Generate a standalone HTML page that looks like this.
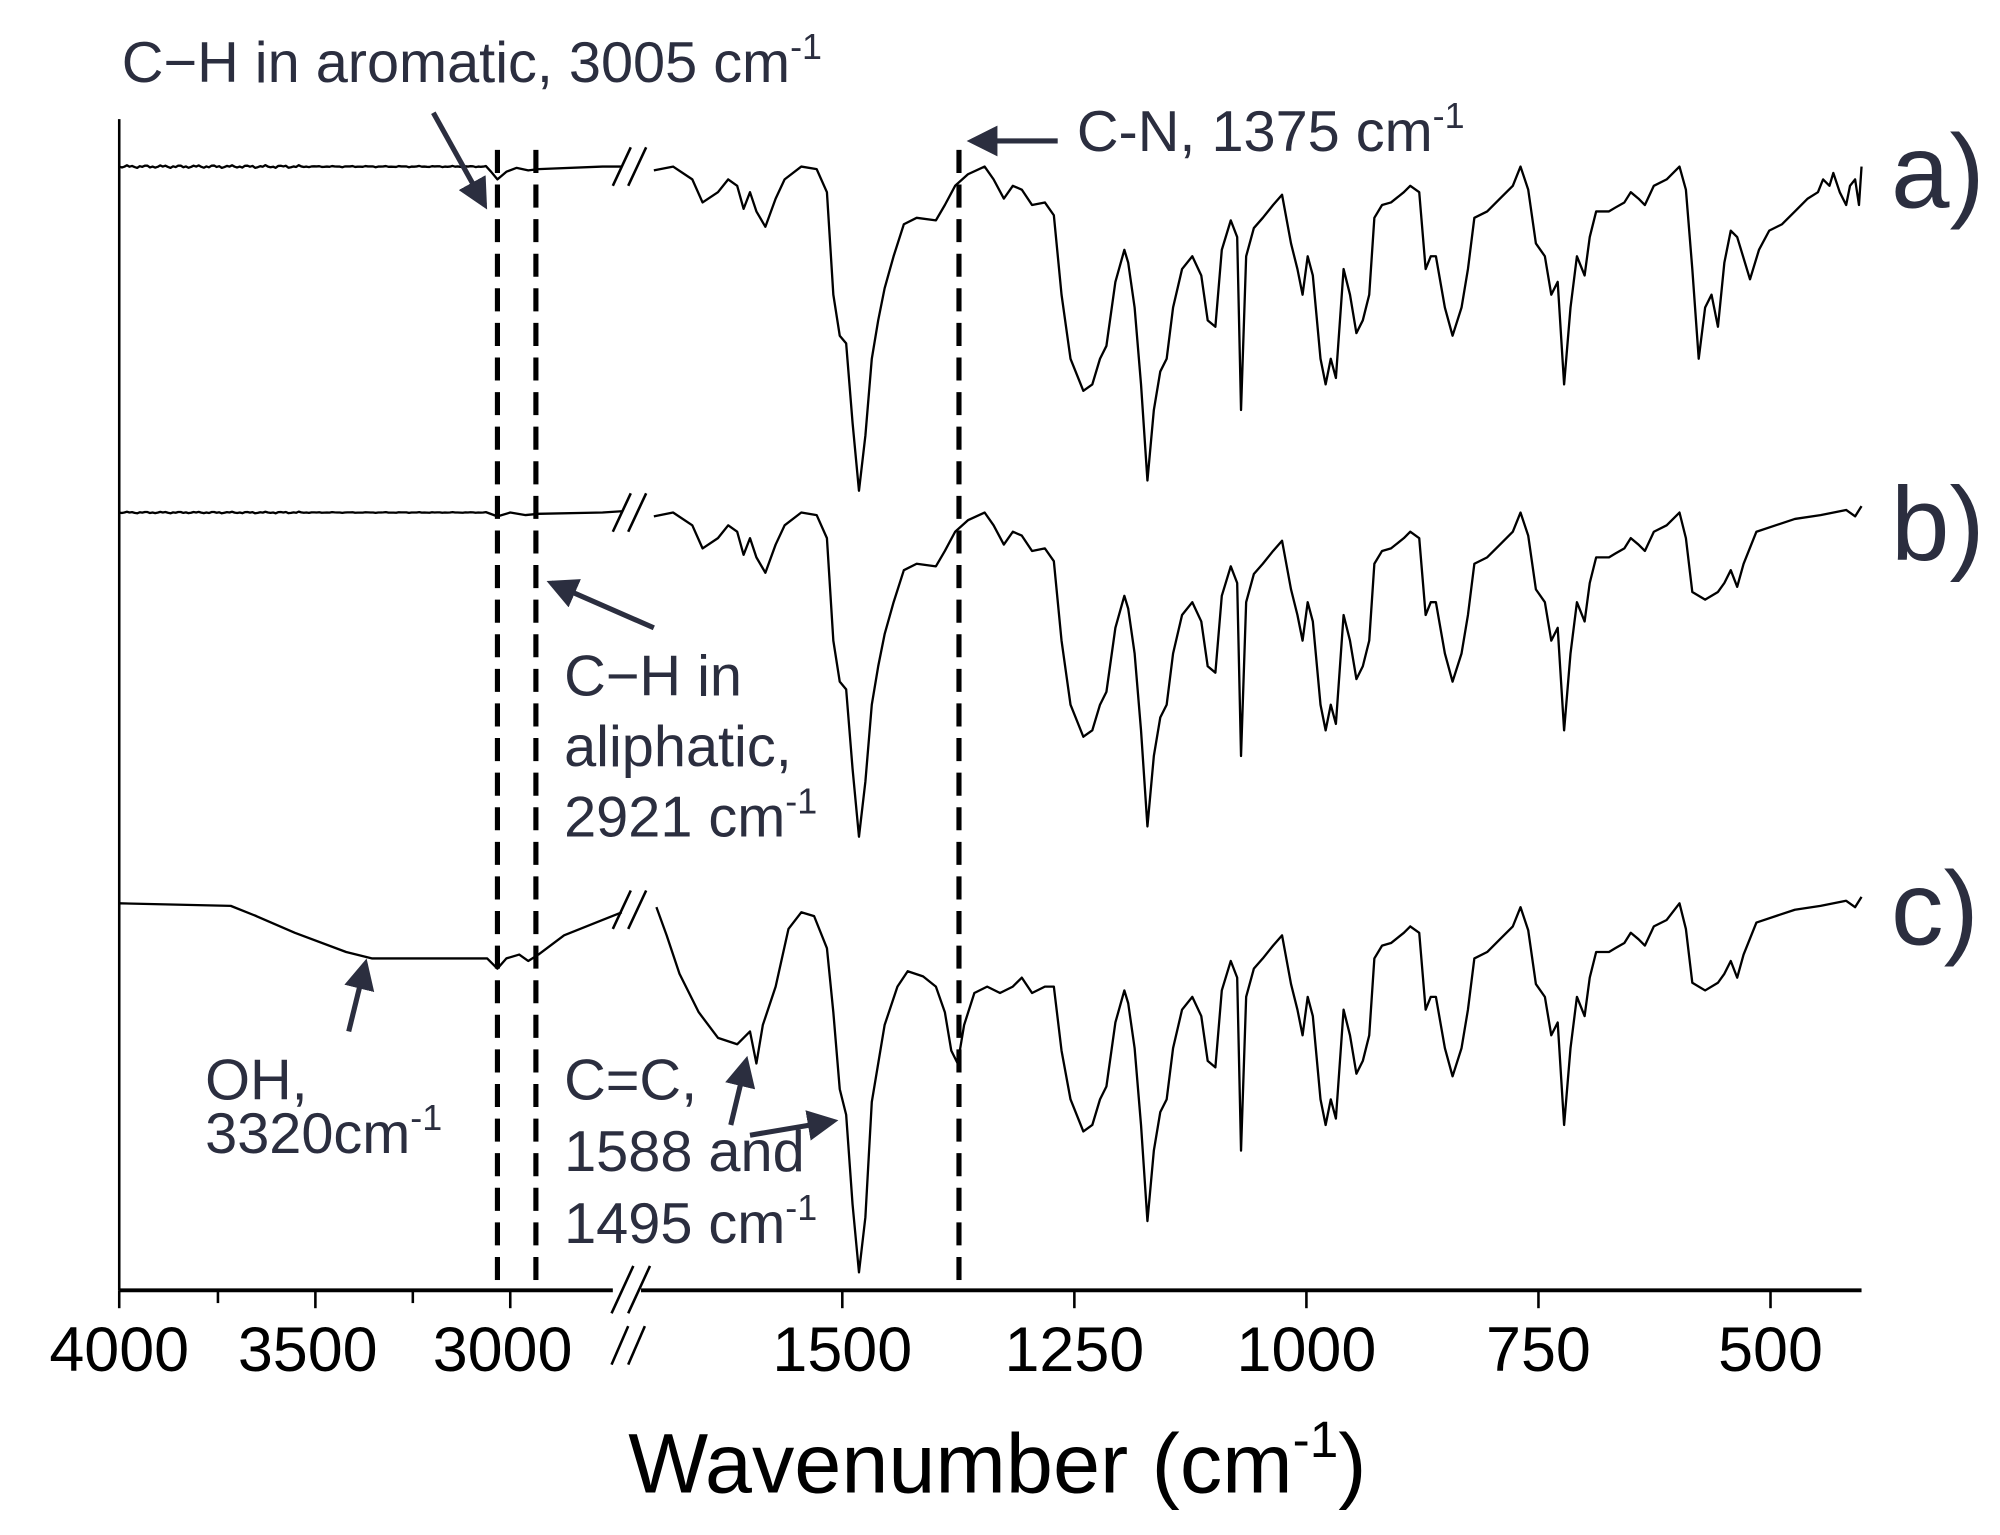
<!DOCTYPE html>
<html><head><meta charset="utf-8"><style>
html,body{margin:0;padding:0;background:#fff;}
svg{display:block}
text{font-family:"Liberation Sans",Arial,sans-serif;fill:#2b2e3f}
</style></head><body>
<svg id="s" width="2000" height="1535" viewBox="0 0 1560 1198" preserveAspectRatio="none" xmlns="http://www.w3.org/2000/svg">
<defs><marker id="ah" markerWidth="6" markerHeight="6" refX="5" refY="3" orient="auto" markerUnits="strokeWidth"><path d="M0,0 L6,3 L0,6 Z" fill="#2b2e3f"/></marker></defs>
<g stroke="#000" stroke-width="2" fill="none">
<line x1="93" y1="93" x2="93" y2="1007"/>
<line x1="93" y1="1007" x2="1452" y2="1007" stroke-width="3"/>
<g stroke-width="2">
<line x1="93" y1="1007" x2="93" y2="1021"/><line x1="170" y1="1007" x2="170" y2="1017"/>
<line x1="246" y1="1007" x2="246" y2="1021"/><line x1="322" y1="1007" x2="322" y2="1017"/>
<line x1="398" y1="1007" x2="398" y2="1021"/>
<line x1="657" y1="1007" x2="657" y2="1021"/><line x1="838" y1="1007" x2="838" y2="1021"/>
<line x1="1019" y1="1007" x2="1019" y2="1021"/><line x1="1200" y1="1007" x2="1200" y2="1021"/>
<line x1="1381" y1="1007" x2="1381" y2="1021"/>
</g>
<rect x="478" y="1001" width="22" height="12" fill="#fff" stroke="none"/>
<line x1="477" y1="1025" x2="494" y2="988"/><line x1="490" y1="1025" x2="507" y2="988"/>
<line x1="477" y1="1065" x2="490" y2="1035"/><line x1="490" y1="1065" x2="503" y2="1035"/>
</g>
<g stroke="#000" stroke-width="4" stroke-dasharray="18,9">
<line x1="388" y1="117" x2="388" y2="1005"/><line x1="418" y1="117" x2="418" y2="1005"/><line x1="748" y1="117" x2="748" y2="1005"/>
</g>
<g id="curves" stroke="#000" stroke-width="1.8" fill="none" stroke-linejoin="round"></g>
<g stroke="#000" stroke-width="2">
<line x1="478" y1="145" x2="492" y2="115"/><line x1="490" y1="145" x2="504" y2="115"/>
<line x1="478" y1="415" x2="492" y2="385"/><line x1="490" y1="415" x2="504" y2="385"/>
<line x1="478" y1="725" x2="492" y2="695"/><line x1="490" y1="725" x2="504" y2="695"/>
</g>
<g stroke="#2b2e3f" stroke-width="4" marker-end="url(#ah)" fill="none">
<line x1="338" y1="88" x2="378" y2="160"/>
<line x1="825" y1="110" x2="758" y2="110"/>
<line x1="510" y1="490" x2="430" y2="455"/>
<line x1="272" y1="805" x2="285" y2="752"/>
<line x1="570" y1="878" x2="582" y2="828"/>
<line x1="585" y1="886" x2="650" y2="875"/>
</g>
<g font-size="45">
<text x="95" y="64">C−H in aromatic, 3005 cm<tspan font-size="28" dy="-18">-1</tspan></text>
<text x="840" y="118">C-N, 1375 cm<tspan font-size="28" dy="-18">-1</tspan></text>
<text x="440" y="543">C−H in</text>
<text x="440" y="598">aliphatic,</text>
<text x="440" y="653">2921 cm<tspan font-size="28" dy="-18">-1</tspan></text>
<text x="160" y="858">OH,</text>
<text x="160" y="900">3320cm<tspan font-size="28" dy="-18">-1</tspan></text>
<text x="440" y="858">C=C,</text>
<text x="440" y="914">1588 and</text>
<text x="440" y="970">1495 cm<tspan font-size="28" dy="-18">-1</tspan></text>
</g>
<g font-size="82">
<text x="1475" y="162">a)</text><text x="1475" y="437">b)</text><text x="1475" y="737">c)</text>
</g>
<g font-size="49" text-anchor="middle">
<text x="93" y="1070" style="fill:#000">4000</text><text x="240" y="1070" style="fill:#000">3500</text>
<text x="392" y="1070" style="fill:#000">3000</text><text x="657" y="1070" style="fill:#000">1500</text>
<text x="838" y="1070" style="fill:#000">1250</text><text x="1019" y="1070" style="fill:#000">1000</text>
<text x="1200" y="1070" style="fill:#000">750</text><text x="1381" y="1070" style="fill:#000">500</text>
</g>
<text x="490" y="1165" font-size="66" style="fill:#000">Wavenumber (cm<tspan font-size="40" dy="-28">-1</tspan><tspan dy="28">)</tspan></text>
</svg>
<script>
var A=[[510,133],[525,130],[540,140],[548,158],[560,150],[568,140],[575,145],[580,163],[585,150],[590,165],[597,177],[605,155],[612,140],[625,130],[637,132],[645,150],[650,230],[655,262],[660,268],[665,330],[670,383],[675,340],[680,280],[685,250],[690,225],[697,200],[705,175],[715,170],[730,172],[737,160],[745,145],[755,136],[768,130],[775,140],[783,155],[790,145],[797,148],[805,160],[815,158],[822,168],[828,230],[835,280],[845,305],[852,300],[858,280],[863,270],[870,220],[877,195],[880,205],[885,240],[890,300],[895,375],[900,320],[905,290],[910,280],[915,240],[922,210],[930,200],[937,215],[942,250],[948,255],[953,195],[960,172],[965,185],[968,320],[972,200],[978,178],[985,170],[993,160],[1000,152],[1007,190],[1012,210],[1016,230],[1020,200],[1024,215],[1030,280],[1034,300],[1038,280],[1042,295],[1048,210],[1053,230],[1058,260],[1063,250],[1068,230],[1072,170],[1078,160],[1085,158],[1095,150],[1100,145],[1107,150],[1112,210],[1116,200],[1120,200],[1127,240],[1133,262],[1140,240],[1145,210],[1150,170],[1160,165],[1170,155],[1180,145],[1186,130],[1192,148],[1198,190],[1205,200],[1210,230],[1215,220],[1220,300],[1225,240],[1230,200],[1236,215],[1240,185],[1245,165],[1255,165],[1260,162],[1267,158],[1272,150],[1278,155],[1283,160],[1290,145],[1300,140],[1310,130],[1315,148],[1320,210],[1325,280],[1330,240],[1335,230],[1340,255],[1345,205],[1350,180],[1355,185],[1365,218],[1372,195],[1380,180],[1390,175],[1400,165],[1410,155],[1418,150],[1422,140],[1427,145],[1430,135],[1435,150],[1440,160],[1443,145],[1447,140],[1450,160],[1452,130]];
var BT=[[1310,400],[1315,420],[1320,462],[1330,468],[1340,462],[1345,455],[1350,445],[1355,458],[1360,440],[1370,415],[1385,410],[1400,405],[1420,402],[1440,398],[1447,403],[1452,395]];
function noisy(y0,x0,x1,amp){var p=[];for(var x=x0;x<=x1;x+=2){p.push([x,y0+(x<380?Math.sin(x*2.3)*Math.sin(x*0.37)*amp*(x<240?1:0.4):0)]);}return p;}
function pts(a){return a.map(function(p){return p[0]+','+p[1].toFixed(1)}).join(' ');}
var g=document.getElementById('curves'),out='';
function pl(a){out+='<polyline points="'+pts(a)+'"/>';}
var la=noisy(130,93,380,1.2).concat([[383,134],[388,140],[395,134],[403,131],[412,133],[420,132],[470,130],[485,130]]);pl(la);
pl(A);
var lb=noisy(400,93,380,0.7).concat([[388,403],[398,400],[410,402],[420,401],[470,400],[485,399]]);pl(lb);
var B=A.filter(function(p){return p[0]<1310}).map(function(p){return [p[0],p[1]+270]}).concat(BT);pl(B);
pl([[93,705],[180,707],[200,715],[230,728],[270,743],[290,748],[380,748],[388,756],[395,748],[405,745],[412,750],[420,745],[440,730],[470,718],[485,712]]);
var C=[[512,708],[520,730],[530,760],[545,790],[560,810],[575,815],[585,805],[590,830],[595,800],[605,770],[615,725],[625,712],[635,715],[645,740],[650,790],[655,850],[660,870],[665,940],[670,993],[675,950],[680,860],[690,800],[700,770],[708,758],[720,762],[730,770],[737,790],[742,820],[747,830],[752,800],[760,775],[770,770],[780,775],[790,770],[797,763],[805,775],[815,770],[822,770],[828,820]];
C=C.concat(A.filter(function(p){return p[0]>=835&&p[0]<1310}).map(function(p){return [p[0],p[1]+578]})).concat(BT.map(function(p){return [p[0],p[1]+305]}));
pl(C);
g.innerHTML=out;
</script>
</body></html>
